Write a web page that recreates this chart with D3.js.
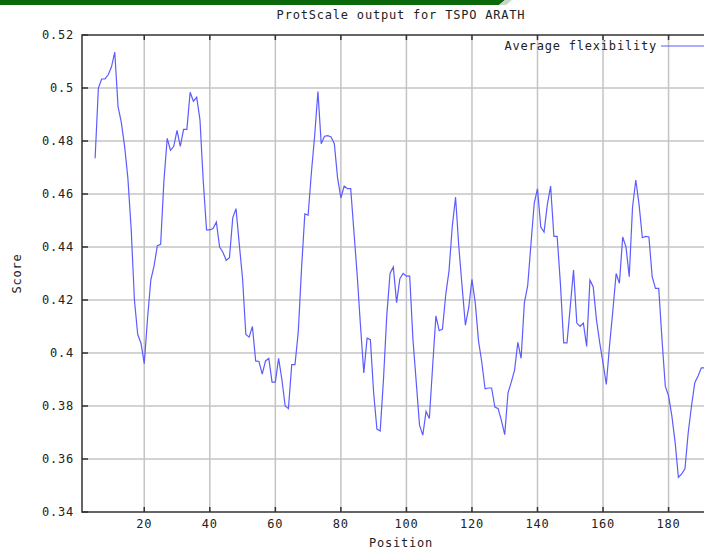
<!DOCTYPE html>
<html lang='en'>
<head>
<meta charset='utf-8'>
<title>ProtScale output for TSPO ARATH</title>
<script src='https://cdnjs.cloudflare.com/ajax/libs/d3/7.8.5/d3.min.js'></script>
<style>
body {
   margin:0;
   overflow:hidden;
   background:white;
}
text {
   font-family:'DejaVu Sans Mono', monospace;
   font-size:12px;
   letter-spacing:0.8px;
   fill:#222;
}
</style>
</head>
<body>
<script>
var titleText = 'ProtScale output for TSPO ARATH';
var seriesName = 'Average flexibility';
var firstPos = 5;
var scores = [
   0.4735, 0.500, 0.5034, 0.5034, 0.505, 0.508, 0.5135, 0.493, 0.487, 0.478,
   0.466, 0.447, 0.420, 0.407, 0.4037, 0.396, 0.413, 0.4275, 0.433, 0.4405,
   0.441, 0.465, 0.481, 0.4765, 0.478, 0.484, 0.478, 0.4844, 0.4844, 0.4984,
   0.495, 0.4965, 0.488, 0.465, 0.4465, 0.4465, 0.447, 0.4494, 0.440, 0.438,
   0.435, 0.436, 0.451, 0.4545, 0.441, 0.428, 0.407, 0.406, 0.410, 0.397,
   0.3968, 0.392, 0.397, 0.398, 0.389, 0.389, 0.398, 0.390, 0.380, 0.379,
   0.3956, 0.3956, 0.408, 0.432, 0.4525, 0.452, 0.468, 0.482, 0.4987, 0.479,
   0.4818, 0.482, 0.4815, 0.479, 0.466, 0.4585, 0.463, 0.462, 0.462, 0.4455,
   0.429, 0.410, 0.3925, 0.4056, 0.405, 0.385, 0.3713, 0.3706, 0.390, 0.414,
   0.430, 0.4325, 0.419, 0.428, 0.430, 0.429, 0.429, 0.405, 0.389, 0.3728,
   0.369, 0.378, 0.3753, 0.395, 0.414, 0.4084, 0.409, 0.422, 0.431, 0.4478,
   0.4588, 0.440, 0.425, 0.4105, 0.417, 0.4278, 0.419, 0.4046, 0.3965, 0.3865,
   0.3868, 0.3868, 0.3796, 0.379, 0.3745, 0.3692, 0.385, 0.389, 0.3935, 0.404,
   0.398, 0.419, 0.4253, 0.441, 0.4565, 0.462, 0.4475, 0.4456, 0.456, 0.463,
   0.444, 0.444, 0.426, 0.4038, 0.4038, 0.4175, 0.4313, 0.4113, 0.410, 0.4113,
   0.4025, 0.4275, 0.425, 0.4125, 0.4038, 0.3963, 0.3881, 0.403, 0.416, 0.430,
   0.4263, 0.4438, 0.440, 0.4288, 0.455, 0.4653, 0.456, 0.4435, 0.444, 0.4438,
   0.4288, 0.4244, 0.4244, 0.405, 0.3875, 0.3838, 0.3763, 0.3663, 0.3531, 0.3544,
   0.3563, 0.370, 0.380, 0.3888, 0.3913, 0.3944, 0.3944, 0.396
];
var xTicks = [20, 40, 60, 80, 100, 120, 140, 160, 180];
var yTicks = [0.34, 0.36, 0.38, 0.40, 0.42, 0.44, 0.46, 0.48, 0.50, 0.52];
var yTickLabels = ['0.34', '0.36', '0.38', '0.4', '0.42', '0.44', '0.46', '0.48', '0.5', '0.52'];

var W = 704, H = 550;
var pL = 82, pT = 35, pB = 512;
var pR = 721;   // plot runs past the right edge of the picture

var svg = d3.select('body')
            .append('svg')
            .attr('width', W)
            .attr('height', H);

// green banner at the very top
svg.append('polygon')
   .attr('points', '0,0 505,0 499,5 0,5')
   .style('fill', '#0b690b');
svg.append('polygon')
   .attr('points', '505,0 512,0 506,5 499,5')
   .style('fill', '#c8d8c8');

var x = d3.scaleLinear().domain([1, 196]).range([pL, pR]);
var y = d3.scaleLinear().domain([0.34, 0.52]).range([pB, pT]);

var points = scores.map(function(v, i) { return {pos: firstPos + i, val: v}; });

// grid
var grid = svg.append('g').attr('id', 'grid');
grid.selectAll('line.gx')
   .data(xTicks)
   .enter()
   .append('line')
   .attr('class', 'gx')
   .attr('x1', function(d){return x(d);}).attr('x2', function(d){return x(d);})
   .attr('y1', pT).attr('y2', pB)
   .style('stroke', '#c4c4c4').style('stroke-width', 1.5);
grid.selectAll('line.gy')
   .data(yTicks.slice(1, -1))
   .enter()
   .append('line')
   .attr('class', 'gy')
   .attr('x1', pL).attr('x2', W)
   .attr('y1', function(d){return y(d);}).attr('y2', function(d){return y(d);})
   .style('stroke', '#c4c4c4').style('stroke-width', 1.5);

// frame
svg.append('path')
   .attr('d', 'M' + W + ',' + pT + 'H' + pL + 'V' + pB + 'H' + W)
   .style('fill', 'none').style('stroke', '#333').style('stroke-width', 1.5);

// short dark ticks pointing inward
var tk = svg.append('g').style('stroke', '#333').style('stroke-width', 1.5);
xTicks.forEach(function(t) {
   tk.append('line').attr('x1', x(t)).attr('x2', x(t)).attr('y1', pT).attr('y2', pT + 5);
   tk.append('line').attr('x1', x(t)).attr('x2', x(t)).attr('y1', pB).attr('y2', pB - 5);
});
yTicks.forEach(function(t) {
   tk.append('line').attr('x1', pL).attr('x2', pL + 6).attr('y1', y(t)).attr('y2', y(t));
});

// tick labels
svg.append('g')
   .selectAll('text')
   .data(xTicks)
   .enter()
   .append('text')
   .attr('x', function(d){return x(d);})
   .attr('y', 528)
   .attr('text-anchor', 'middle')
   .text(function(d){return d;});
svg.append('g')
   .selectAll('text')
   .data(yTicks)
   .enter()
   .append('text')
   .attr('x', 74)
   .attr('y', function(d){return y(d) + 4;})
   .attr('text-anchor', 'end')
   .text(function(d, i){return yTickLabels[i];});

// titles
svg.append('text').attr('x', 401).attr('y', 19).attr('text-anchor', 'middle').text(titleText);
svg.append('text').attr('x', 401).attr('y', 547).attr('text-anchor', 'middle').text('Position');
svg.append('text')
   .attr('transform', 'translate(21,' + ((pT + pB) / 2) + ') rotate(-90)')
   .attr('text-anchor', 'middle')
   .text('Score');

// the profile
var line = d3.line()
             .x(function(d){return x(d.pos);})
             .y(function(d){return y(d.val);});
svg.append('path')
   .datum(points)
   .attr('d', line)
   .style('fill', 'none')
   .style('stroke', '#5c5cff')
   .style('stroke-width', 1.2);

// legend
svg.append('text').attr('x', 657).attr('y', 50).attr('text-anchor', 'end').text(seriesName);
svg.append('line')
   .attr('x1', 661).attr('x2', W).attr('y1', 46).attr('y2', 46)
   .style('stroke', '#5c5cff').style('stroke-width', 1.2);
</script>
</body>
</html>
